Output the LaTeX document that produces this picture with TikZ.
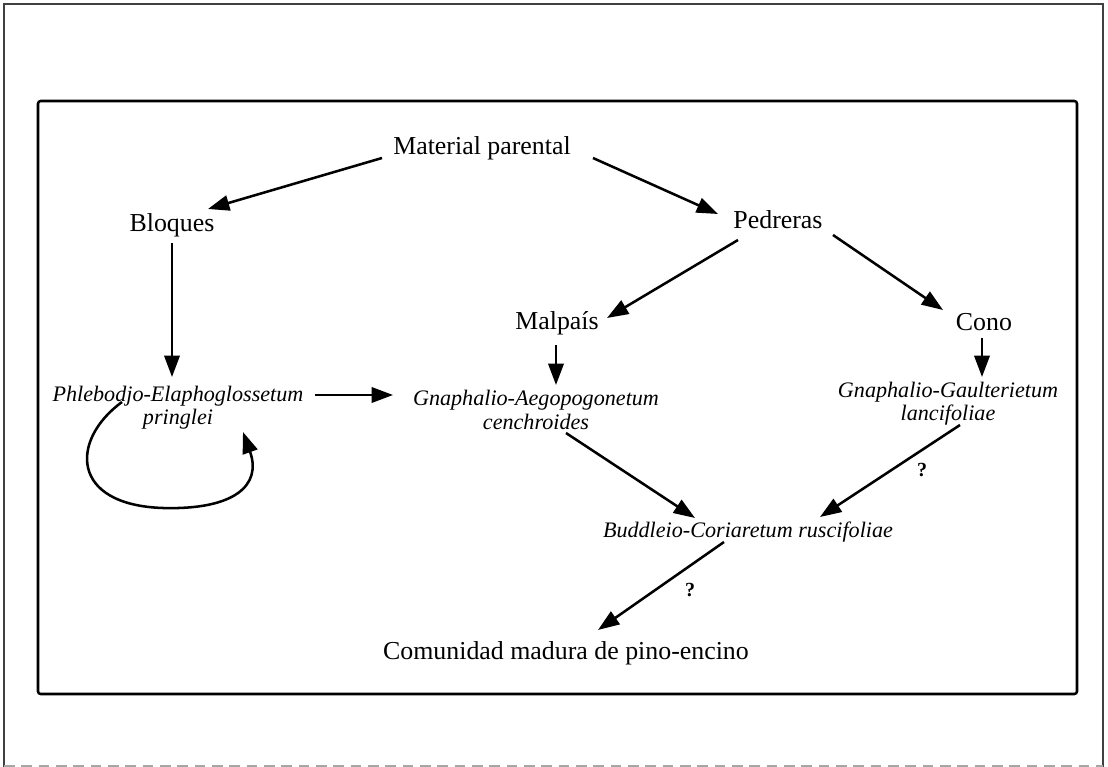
\documentclass[tikz,border=0pt]{standalone}
\usepackage{fontspec}
\setmainfont{Liberation Serif}
\usetikzlibrary{arrows.meta,calc}
\begin{document}
\begin{tikzpicture}[x=0.75pt,y=-0.75pt,
  lbl/.style={inner sep=0pt, font=\fontsize{19.4}{22}\selectfont},
  ilbl/.style={inner sep=0pt, align=center, font=\fontsize{16.6}{17.5}\selectfont\itshape},
  arr/.style={line width=1.9pt, -{Triangle[length=16pt,width=11.5pt]}},
  qm/.style={inner sep=0pt, font=\fontsize{15}{15}\selectfont\bfseries}]
\useasboundingbox (0,0) rectangle (1108,767);
% outer frame
\draw[line width=1.1pt, black!75] (4,767) -- (4,4) -- (1103,4) -- (1103,767);
\draw[line width=1.1pt, black!35, dash pattern=on 8pt off 5pt] (4,766) -- (1103,766);
% inner box
\draw[line width=1.9pt, rounded corners=2pt] (38,101) rectangle (1077,694);
% nodes
\node[lbl] (mat) at (482,148) {Material parental};
\node[lbl] (blo) at (172,225) {Bloques};
\node[lbl] (ped) at (778,220) {Pedreras};
\node[lbl] (mal) at (557,323) {Malpaís};
\node[lbl] (con) at (984,322) {Cono};
\node[ilbl] (phl) at (178,408) {Phlebodjo-Elaphoglossetum\\pringlei};
\node[ilbl] (gae) at (536,410) {Gnaphalio-Aegopogonetum\\cenchroides};
\node[ilbl] (gga) at (948,404) {Gnaphalio-Gaulterietum\\lancifoliae};
\node[ilbl] (bud) at (748,532) {Buddleio-Coriaretum ruscifoliae};
\node[lbl] (com) at (566,653) {Comunidad madura de pino-encino};
\node[qm] (q1) at (922,470) {?};
\node[qm] (q2) at (690,590) {?};
% connectors
\draw[arr] ($(mat)+(-100,10)$) -- ($(blo)+(36,-16)$);
\draw[arr] ($(mat)+(111,10)$) -- ($(ped)+(-60,-6)$);
\draw[arr] ($(blo)+(0,18)$) -- ($(phl)+(-6,-31)$);
\draw[arr] ($(ped)+(-40,20)$) -- ($(mal)+(50,-5)$);
\draw[arr] ($(ped)+(55,15)$) -- ($(con)+(-41,-12)$);
\draw[arr] ($(mal)+(-1,22)$) -- ($(gae)+(20,-25)$);
\draw[arr] ($(con)+(-2,16)$) -- ($(gga)+(34,-27)$);
\draw[arr] ($(phl)+(137,-13)$) -- ($(gae)+(-143,-15)$);
\draw[arr] ($(gae)+(30,23)$) -- ($(bud)+(-53,-14)$);
\draw[arr] ($(gga)+(12,21)$) -- ($(bud)+(72,-15)$);
\draw[arr] ($(bud)+(-24,10)$) -- ($(com)+(32,-23)$);
\draw[arr] ($(phl)+(-56,-6)$) .. controls ($(phl)+(-108,32)$) and ($(phl)+(-108,97)$) .. ($(phl)+(-15,100)$)
  .. controls ($(phl)+(57,102)$) and ($(phl)+(84,77)$) .. ($(phl)+(65,24)$);
\end{tikzpicture}
\end{document}
